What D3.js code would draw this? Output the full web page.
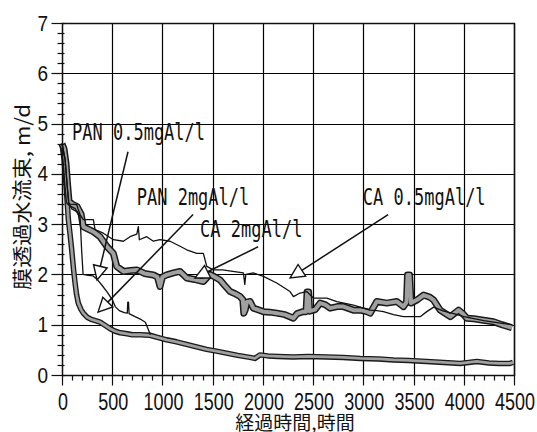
<!DOCTYPE html>
<html><head><meta charset="utf-8">
<script src="https://cdn.jsdelivr.net/npm/d3@7/dist/d3.min.js"></script>
<style>body{margin:0;background:#fff;overflow:hidden}</style>
</head><body><svg id="c" width="537" height="432"></svg>
<script>
// ---- data ----
const xTicks = [0, 500, 1000, 1500, 2000, 2500, 3000, 3500, 4000, 4500];
const yTicks = [0, 1, 2, 3, 4, 5, 6, 7];
const xLabel = "経過時間,時間";
const yLabel = "膜透過水流束, m/d";

// PAN 2mgAl/l (thick outlined, bottom)
const pan2 = [[0,4.6],[20,4.3],[40,3.8],[63,3.1],[80,2.8],[96,2.5],[115,2.1],[130,1.83],[145,1.6],[162,1.43],[190,1.3],[212,1.23],[250,1.15],[300,1.1],[380,1.05],[420,1.0],[480,0.92],[530,0.87],[580,0.84],[650,0.82],[700,0.8],[780,0.8],[876,0.79],[950,0.75],[1043,0.7],[1140,0.66],[1240,0.61],[1340,0.56],[1440,0.51],[1550,0.47],[1650,0.43],[1750,0.39],[1870,0.35],[1920,0.33],[1970,0.4],[2050,0.38],[2150,0.37],[2300,0.36],[2450,0.37],[2635,0.36],[2800,0.35],[2970,0.33],[3150,0.32],[3300,0.3],[3450,0.29],[3630,0.27],[3800,0.25],[3965,0.23],[4050,0.25],[4130,0.27],[4250,0.24],[4350,0.23],[4460,0.23],[4490,0.25]];

// PAN 0.5mgAl/l (thin)
const pan05 = [[0,4.6],[30,4.3],[55,3.7],[70,3.4],[100,3.3],[150,3.25],[180,3.15],[195,2.5],[210,2.0],[260,1.98],[310,1.97],[350,1.9],[400,1.78],[450,1.65],[500,1.5],[530,1.36],[570,1.28],[620,1.24],[650,1.23],[655,1.45],[662,1.45],[668,1.22],[727,1.16],[790,1.1],[830,1.05],[860,0.9],[880,0.8]];

// CA 2mgAl/l (thick gray band)
const ca2 = [[0,4.6],[20,4.5],[40,4.2],[55,3.8],[70,3.45],[100,3.4],[150,3.35],[190,3.2],[212,2.95],[260,2.9],[312,2.85],[378,2.75],[445,2.56],[511,2.42],[545,2.16],[611,2.06],[680,2.08],[744,2.09],[820,2.02],[910,1.99],[950,1.95],[976,1.76],[1000,1.95],[1043,1.99],[1110,2.03],[1175,2.06],[1242,1.93],[1320,1.9],[1407,1.86],[1474,2.0],[1540,1.93],[1574,1.89],[1620,1.78],[1673,1.66],[1720,1.62],[1773,1.56],[1800,1.5],[1810,1.23],[1825,1.3],[1840,1.45],[1873,1.46],[1905,1.33],[2005,1.26],[2070,1.25],[2138,1.23],[2220,1.2],[2304,1.13],[2340,1.22],[2400,1.26],[2430,1.26],[2440,1.65],[2455,1.65],[2465,1.27],[2520,1.3],[2570,1.43],[2620,1.4],[2670,1.33],[2740,1.36],[2802,1.36],[2901,1.29],[2968,1.29],[3035,1.26],[3068,1.23],[3134,1.46],[3234,1.43],[3334,1.46],[3400,1.36],[3430,1.45],[3440,1.99],[3460,1.99],[3475,1.43],[3540,1.5],[3600,1.59],[3660,1.55],[3700,1.49],[3765,1.29],[3865,1.16],[3948,1.29],[3990,1.22],[4030,1.13],[4100,1.12],[4163,1.1],[4230,1.08],[4296,1.06],[4380,1.0],[4480,0.94]];

// CA 0.5mgAl/l (thin)
const ca05 = [[0,4.6],[30,4.3],[50,3.8],[65,3.42],[80,3.4],[146,3.39],[160,3.3],[180,3.19],[212,3.09],[312,3.09],[329,2.89],[411,2.82],[512,2.69],[611,2.66],[677,2.75],[745,2.8],[760,2.95],[770,2.69],[843,2.75],[910,2.66],[976,2.69],[1076,2.66],[1175,2.56],[1242,2.49],[1341,2.42],[1407,2.42],[1441,2.16],[1507,2.09],[1600,2.09],[1700,2.06],[1806,2.03],[1820,1.8],[1830,2.0],[1905,2.03],[2005,1.96],[2138,1.83],[2270,1.66],[2304,1.56],[2370,1.63],[2437,1.66],[2503,1.53],[2636,1.53],[2736,1.46],[2901,1.39],[3068,1.29],[3134,1.28],[3200,1.26],[3300,1.2],[3400,1.16],[3566,1.16],[3632,1.26],[3700,1.35],[3800,1.27],[3900,1.22],[4000,1.16],[4100,1.12],[4200,1.08],[4300,1.05],[4400,1.02],[4480,1.0]];

// annotations: label text, label anchor (hours, value), arrow start, arrow tip
const annoText  = ["PAN 0.5mgAl/l", "PAN 2mgAl/l", "CA 2mgAl/l", "CA 0.5mgAl/l"];
const annoLabel = [[100,4.68],[744,3.39],[1375,2.75],[2995,3.39]];
const annoFrom  = [[657,4.44],[1305,3.19],[1952,2.55],[3247,3.19]];
const annoTip   = [[349,1.89],[359,1.25],[1325,1.93],[2271,1.93]];

// ---- drawing ----
const svg = d3.select("#c");
const x = d3.scaleLinear().domain([0,4500]).range([62,514]);
const y = d3.scaleLinear().domain([0,7]).range([375,23]);
const cx = d => Math.round(x(d)) + 0.5;
const cy = d => Math.round(y(d)) + 0.5;

// grid
svg.append("g").selectAll("line").data(xTicks.slice(1)).join("line")
  .attr("x1",cx).attr("x2",cx).attr("y1",cy(0)).attr("y2",cy(7))
  .attr("stroke","#000").attr("stroke-width",1.2);
svg.append("g").selectAll("line").data(yTicks.slice(1)).join("line")
  .attr("x1",cx(0)).attr("x2",cx(4500)).attr("y1",cy).attr("y2",cy)
  .attr("stroke","#000").attr("stroke-width",1.2);

const line = d3.line().x(d=>x(d[0])).y(d=>y(d[1]));

// thick outlined series
function thick(data, outer, inner){
  svg.append("path").attr("d",line(data)).attr("fill","none")
    .attr("stroke","#1a1a1a").attr("stroke-width",outer).attr("stroke-linejoin","round");
  svg.append("path").attr("d",line(data)).attr("fill","none")
    .attr("stroke","#a0a0a0").attr("stroke-width",inner).attr("stroke-linejoin","round");
}
thick(pan2, 5.5, 2.8);
thick(ca2, 7, 4);

// thin series
[pan05, ca05].forEach(s=>{
  svg.append("path").attr("d",line(s)).attr("fill","none")
    .attr("stroke","#111").attr("stroke-width",1.3).attr("stroke-linejoin","round");
});

// annotations
annoText.forEach((t,i)=>{
  const fx=x(annoFrom[i][0]), fy=y(annoFrom[i][1]);
  const tx=x(annoTip[i][0]), ty=y(annoTip[i][1]);
  const dx=tx-fx, dy=ty-fy, L=Math.hypot(dx,dy);
  const ux=dx/L, uy=dy/L, nx=-uy, ny=ux;
  const bx=tx-14*ux, by=ty-14*uy;
  svg.append("line").attr("x1",fx).attr("y1",fy).attr("x2",bx).attr("y2",by)
    .attr("stroke","#111").attr("stroke-width",1.5);
  svg.append("polygon")
    .attr("points",[[tx,ty],[bx+7*nx,by+7*ny],[bx-7*nx,by-7*ny]].map(p=>p.join(",")).join(" "))
    .attr("fill","#fff").attr("stroke","#111").attr("stroke-width",1.4);
  svg.append("text")
    .attr("transform",`translate(${x(annoLabel[i][0])},${y(annoLabel[i][1])}) scale(1,1.35)`)
    .attr("font-family","'DejaVu Sans Mono','Liberation Mono',monospace")
    .attr("font-size",17).attr("fill","#111").text(t);
});

// axes frame
svg.append("rect").attr("x",cx(0)).attr("y",cy(7)).attr("width",cx(4500)-cx(0)).attr("height",cy(0)-cy(7))
  .attr("fill","none").attr("stroke","#111").attr("stroke-width",1.5);

// x ticks
const xMinor = d3.range(0,4501,100);
svg.append("g").selectAll("line").data(xMinor).join("line")
  .attr("x1",d=>cx(d)).attr("x2",d=>cx(d)).attr("y1",cy(0))
  .attr("y2",d=>cy(0)+(d%500===0?10:5))
  .attr("stroke","#111").attr("stroke-width",1.2);
// y ticks
const yMinor = d3.range(0,36).map(i=>i/5);
svg.append("g").selectAll("line").data(yMinor).join("line")
  .attr("y1",d=>cy(d)).attr("y2",d=>cy(d)).attr("x2",cx(0)+2)
  .attr("x1",(d,i)=>cx(0)-(i%5===0?11:5))
  .attr("stroke","#111").attr("stroke-width",1.2);

// tick labels
svg.append("g").selectAll("text").data(xTicks).join("text")
  .attr("transform",d=>`translate(${x(d)+1},410) scale(1,1.3)`)
  .attr("text-anchor","middle").attr("font-family","'Liberation Sans',Arial,sans-serif")
  .attr("font-size",18).attr("fill","#111").text(d=>d);
svg.append("g").selectAll("text").data(yTicks).join("text")
  .attr("transform",d=>`translate(48,${y(d)+7.5}) scale(1,1.2)`)
  .attr("text-anchor","end").attr("font-family","'Liberation Sans',Arial,sans-serif")
  .attr("font-size",19).attr("fill","#111").text(d=>d);

// axis titles
svg.append("text").attr("x",295).attr("y",430)
  .attr("text-anchor","middle").attr("font-family","'Noto Sans CJK JP',sans-serif")
  .attr("font-size",19).attr("fill","#111").text(xLabel);
svg.append("text").attr("transform","translate(30,197) rotate(-90)")
  .attr("text-anchor","middle").attr("font-family","'Noto Sans CJK JP',sans-serif")
  .attr("font-size",20).attr("fill","#111")
  .attr("textLength",186).attr("lengthAdjust","spacingAndGlyphs").text(yLabel);
</script></body></html>
